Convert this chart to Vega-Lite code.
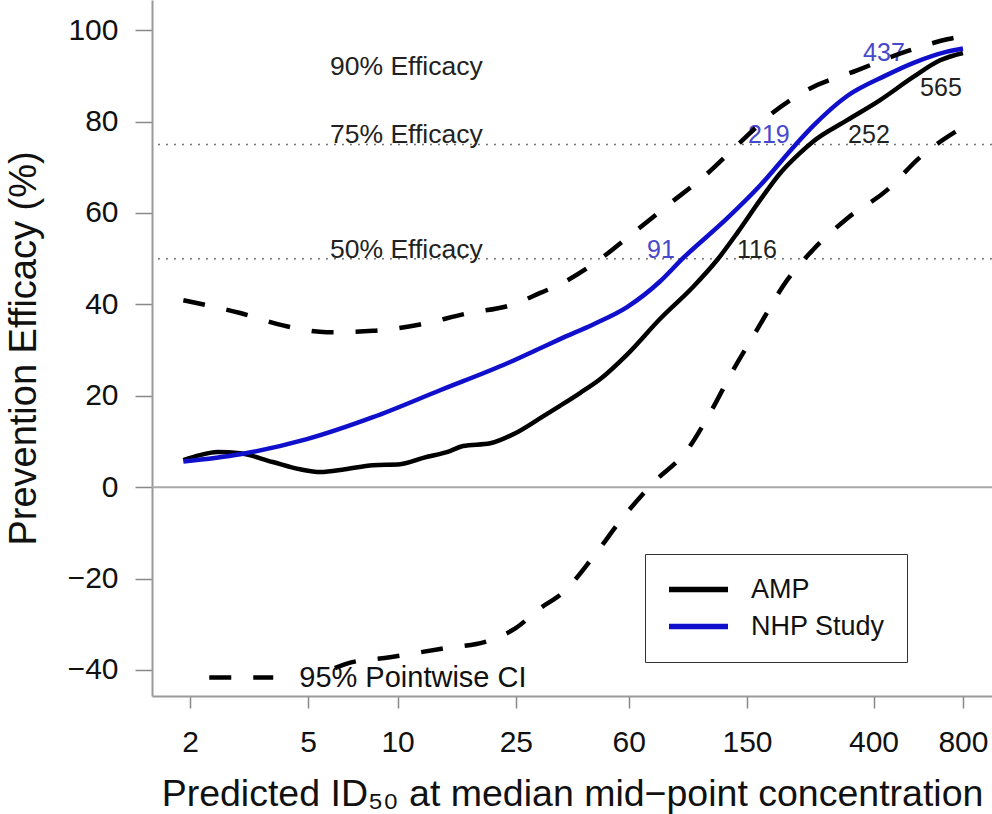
{
  "$schema": "https://vega.github.io/schema/vega-lite/v6.json",
  "width": 840,
  "height": 696,
  "autosize": {"type": "none"},
  "padding": {"left": 152, "top": 0, "right": 0, "bottom": 118},
  "background": "white",
  "config": {"view": {"stroke": null}, "font": "Liberation Sans"},
  "datasets": {
    "curves": [
      {"series": "AMP", "x": 1.9, "y": 5.9},
      {"series": "AMP", "x": 2.16, "y": 7.0},
      {"series": "AMP", "x": 2.47, "y": 7.7},
      {"series": "AMP", "x": 2.95, "y": 7.4},
      {"series": "AMP", "x": 3.8, "y": 5.5},
      {"series": "AMP", "x": 4.7, "y": 3.9},
      {"series": "AMP", "x": 5.5, "y": 3.3},
      {"series": "AMP", "x": 6.65, "y": 3.9},
      {"series": "AMP", "x": 8.26, "y": 4.8},
      {"series": "AMP", "x": 10.2, "y": 5.0},
      {"series": "AMP", "x": 12.2, "y": 6.4},
      {"series": "AMP", "x": 15.0, "y": 7.9},
      {"series": "AMP", "x": 16.6, "y": 9.0},
      {"series": "AMP", "x": 20.5, "y": 9.6},
      {"series": "AMP", "x": 24.9, "y": 11.8},
      {"series": "AMP", "x": 30.2, "y": 15.1},
      {"series": "AMP", "x": 35.2, "y": 17.8},
      {"series": "AMP", "x": 41.1, "y": 20.6},
      {"series": "AMP", "x": 48, "y": 23.6},
      {"series": "AMP", "x": 59.2, "y": 29.0},
      {"series": "AMP", "x": 76.4, "y": 36.8},
      {"series": "AMP", "x": 98.7, "y": 43.8},
      {"series": "AMP", "x": 119, "y": 49.7},
      {"series": "AMP", "x": 139, "y": 55.6},
      {"series": "AMP", "x": 166, "y": 62.8},
      {"series": "AMP", "x": 194, "y": 68.7},
      {"series": "AMP", "x": 226, "y": 73.1},
      {"series": "AMP", "x": 250, "y": 75.6},
      {"series": "AMP", "x": 326, "y": 80.3},
      {"series": "AMP", "x": 421, "y": 84.7},
      {"series": "AMP", "x": 543, "y": 89.7},
      {"series": "AMP", "x": 670, "y": 93.4},
      {"series": "AMP", "x": 800, "y": 95.0},
      {"series": "NHP Study", "x": 1.9, "y": 5.6},
      {"series": "NHP Study", "x": 2.95, "y": 7.2},
      {"series": "NHP Study", "x": 4.95, "y": 10.5},
      {"series": "NHP Study", "x": 8.26, "y": 15.3},
      {"series": "NHP Study", "x": 13.9, "y": 21.2},
      {"series": "NHP Study", "x": 23.4, "y": 27.1},
      {"series": "NHP Study", "x": 30.2, "y": 30.4},
      {"series": "NHP Study", "x": 35.2, "y": 32.4},
      {"series": "NHP Study", "x": 45.5, "y": 35.6},
      {"series": "NHP Study", "x": 59.2, "y": 39.4},
      {"series": "NHP Study", "x": 76.4, "y": 45.0},
      {"series": "NHP Study", "x": 91, "y": 50.0},
      {"series": "NHP Study", "x": 128.5, "y": 58.8},
      {"series": "NHP Study", "x": 166, "y": 66.0},
      {"series": "NHP Study", "x": 219, "y": 75.0},
      {"series": "NHP Study", "x": 250, "y": 79.0},
      {"series": "NHP Study", "x": 326, "y": 85.6},
      {"series": "NHP Study", "x": 437, "y": 90.0},
      {"series": "NHP Study", "x": 543, "y": 92.8},
      {"series": "NHP Study", "x": 708, "y": 95.3},
      {"series": "NHP Study", "x": 800, "y": 96.0}
    ],
    "ci": [
      {"band": "95% Pointwise CI", "bound": "upper", "x": 1.9, "y": 40.9},
      {"band": "95% Pointwise CI", "bound": "upper", "x": 2.95, "y": 38.1},
      {"band": "95% Pointwise CI", "bound": "upper", "x": 4.11, "y": 35.4},
      {"band": "95% Pointwise CI", "bound": "upper", "x": 5.78, "y": 33.9},
      {"band": "95% Pointwise CI", "bound": "upper", "x": 8.26, "y": 34.2},
      {"band": "95% Pointwise CI", "bound": "upper", "x": 11.9, "y": 35.6},
      {"band": "95% Pointwise CI", "bound": "upper", "x": 17.1, "y": 38.0},
      {"band": "95% Pointwise CI", "bound": "upper", "x": 24.5, "y": 40.0},
      {"band": "95% Pointwise CI", "bound": "upper", "x": 30.2, "y": 42.5},
      {"band": "95% Pointwise CI", "bound": "upper", "x": 35.2, "y": 44.4},
      {"band": "95% Pointwise CI", "bound": "upper", "x": 45.5, "y": 48.8},
      {"band": "95% Pointwise CI", "bound": "upper", "x": 62.0, "y": 55.6},
      {"band": "95% Pointwise CI", "bound": "upper", "x": 82.6, "y": 62.1},
      {"band": "95% Pointwise CI", "bound": "upper", "x": 106.7, "y": 67.8},
      {"band": "95% Pointwise CI", "bound": "upper", "x": 139, "y": 74.8},
      {"band": "95% Pointwise CI", "bound": "upper", "x": 183.6, "y": 82.0},
      {"band": "95% Pointwise CI", "bound": "upper", "x": 239, "y": 86.9},
      {"band": "95% Pointwise CI", "bound": "upper", "x": 352, "y": 91.2},
      {"band": "95% Pointwise CI", "bound": "upper", "x": 519, "y": 95.4},
      {"band": "95% Pointwise CI", "bound": "upper", "x": 708, "y": 98.0},
      {"band": "95% Pointwise CI", "bound": "upper", "x": 800, "y": 98.7},
      {"band": "95% Pointwise CI", "bound": "lower", "x": 6.15, "y": -39.6},
      {"band": "95% Pointwise CI", "bound": "lower", "x": 6.75, "y": -38.6},
      {"band": "95% Pointwise CI", "bound": "lower", "x": 9.43, "y": -37.2},
      {"band": "95% Pointwise CI", "bound": "lower", "x": 13.9, "y": -35.4},
      {"band": "95% Pointwise CI", "bound": "lower", "x": 20.5, "y": -33.5},
      {"band": "95% Pointwise CI", "bound": "lower", "x": 24.9, "y": -30.9},
      {"band": "95% Pointwise CI", "bound": "lower", "x": 30.2, "y": -26.5},
      {"band": "95% Pointwise CI", "bound": "lower", "x": 36.1, "y": -23.0},
      {"band": "95% Pointwise CI", "bound": "lower", "x": 45.5, "y": -15.3},
      {"band": "95% Pointwise CI", "bound": "lower", "x": 57.4, "y": -6.6},
      {"band": "95% Pointwise CI", "bound": "lower", "x": 72.4, "y": 0.9},
      {"band": "95% Pointwise CI", "bound": "lower", "x": 94.3, "y": 8.1},
      {"band": "95% Pointwise CI", "bound": "lower", "x": 112.6, "y": 16.2},
      {"band": "95% Pointwise CI", "bound": "lower", "x": 134.7, "y": 25.6},
      {"band": "95% Pointwise CI", "bound": "lower", "x": 162, "y": 34.4},
      {"band": "95% Pointwise CI", "bound": "lower", "x": 204.7, "y": 45.3},
      {"band": "95% Pointwise CI", "bound": "lower", "x": 250, "y": 51.9},
      {"band": "95% Pointwise CI", "bound": "lower", "x": 326, "y": 58.8},
      {"band": "95% Pointwise CI", "bound": "lower", "x": 444, "y": 65.0},
      {"band": "95% Pointwise CI", "bound": "lower", "x": 574, "y": 72.2},
      {"band": "95% Pointwise CI", "bound": "lower", "x": 800, "y": 78.8}
    ],
    "refs": [{"y": 50}, {"y": 75}],
    "zero": [{"y": 0}],
    "efficacy": [
      {"label": "90% Efficacy", "x": 5.92, "y": 90},
      {"label": "75% Efficacy", "x": 5.92, "y": 75},
      {"label": "50% Efficacy", "x": 5.92, "y": 50}
    ],
    "numbers": [
      {"series": "NHP Study", "label": "91", "x": 69.1, "y": 50},
      {"series": "AMP", "label": "116", "x": 138.9, "y": 50},
      {"series": "NHP Study", "label": "219", "x": 151.2, "y": 75},
      {"series": "AMP", "label": "252", "x": 328.5, "y": 75},
      {"series": "NHP Study", "label": "437", "x": 369, "y": 93},
      {"series": "AMP", "label": "565", "x": 574, "y": 85.3}
    ]
  },
  "layer": [
    {
      "data": {"name": "zero"},
      "mark": {"type": "rule", "color": "#a8a8a8", "strokeWidth": 2},
      "encoding": {
        "y": {"field": "y", "type": "quantitative",
              "scale": {"domain": [-45.7, 106.6], "nice": false, "zero": false},
              "axis": {
                "values": [-40, -20, 0, 20, 40, 60, 80, 100],
                "labelFontSize": 30, "labelColor": "#111",
                "tickSize": 17, "tickColor": "#888", "tickWidth": 1.5,
                "domainColor": "#999", "domainWidth": 2, "grid": false,
                "labelPadding": 17,
                "title": "Prevention Efficacy (%)", "titleFontSize": 38,
                "titleFontWeight": "normal", "titleColor": "#111",
                "titleX": -117, "titleBaseline": "alphabetic"
              }}
      }
    },
    {
      "data": {"name": "refs"},
      "mark": {"type": "rule", "color": "#777", "strokeWidth": 1.5, "strokeDash": [2, 6]},
      "encoding": {
        "y": {"field": "y", "type": "quantitative", "scale": {"domain": [-45.7, 106.6], "nice": false, "zero": false}}
      }
    },
    {
      "data": {"name": "efficacy"},
      "mark": {"type": "text", "align": "left", "baseline": "alphabetic", "fontSize": 26.5, "color": "#222", "dy": -1},
      "encoding": {
        "x": {"field": "x", "type": "quantitative", "scale": {"type": "log", "domain": [1.49, 1002], "nice": false},
              "axis": {
                "values": [2, 5, 10, 25, 60, 150, 400, 800], "format": "d",
                "labelFontSize": 30, "labelColor": "#111",
                "tickSize": 12, "tickColor": "#888", "tickWidth": 1.5,
                "domainColor": "#999", "domainWidth": 2, "grid": false,
                "labelPadding": 19, "labelFlush": false, "labelOverlap": false,
                "title": "Predicted ID₅₀ at median mid−point concentration",
                "titleFontSize": 37.5, "titleFontWeight": "normal", "titleColor": "#111",
                "titleY": 109, "titleBaseline": "alphabetic"
              }},
        "y": {"field": "y", "type": "quantitative", "scale": {"domain": [-45.7, 106.6], "nice": false, "zero": false}},
        "text": {"field": "label"}
      }
    },
    {
      "data": {"name": "numbers"},
      "transform": [{"filter": "datum.series === 'NHP Study'"}],
      "mark": {"type": "text", "align": "left", "baseline": "alphabetic", "fontSize": 25, "color": "#4848cc", "dy": -1},
      "encoding": {
        "x": {"field": "x", "type": "quantitative", "scale": {"type": "log", "domain": [1.49, 1002], "nice": false}},
        "y": {"field": "y", "type": "quantitative", "scale": {"domain": [-45.7, 106.6], "nice": false, "zero": false}},
        "text": {"field": "label"}
      }
    },
    {
      "data": {"name": "numbers"},
      "transform": [{"filter": "datum.series === 'AMP'"}],
      "mark": {"type": "text", "align": "left", "baseline": "alphabetic", "fontSize": 25, "color": "#222", "dy": -1},
      "encoding": {
        "x": {"field": "x", "type": "quantitative", "scale": {"type": "log", "domain": [1.49, 1002], "nice": false}},
        "y": {"field": "y", "type": "quantitative", "scale": {"domain": [-45.7, 106.6], "nice": false, "zero": false}},
        "text": {"field": "label"}
      }
    },
    {
      "data": {"name": "ci"},
      "mark": {"type": "line", "interpolate": "monotone", "strokeWidth": 4.5, "color": "#000"},
      "encoding": {
        "x": {"field": "x", "type": "quantitative", "scale": {"type": "log", "domain": [1.49, 1002], "nice": false}},
        "y": {"field": "y", "type": "quantitative", "scale": {"domain": [-45.7, 106.6], "nice": false, "zero": false}},
        "detail": {"field": "bound"},
        "strokeDash": {"field": "band", "type": "nominal",
          "scale": {"domain": ["95% Pointwise CI"], "range": [[22, 22]]},
          "legend": {
            "orient": "none", "legendX": 56, "legendY": 663, "title": null,
            "padding": 0, "symbolType": "M-3,0H3", "symbolSize": 455,
            "symbolStrokeWidth": 4.5, "symbolStrokeColor": "#000",
            "symbolOffset": 18.75, "labelOffset": 43.5, "labelLimit": 0,
            "labelFontSize": 29, "labelColor": "#111"
          }}
      }
    },
    {
      "data": {"name": "curves"},
      "mark": {"type": "line", "interpolate": "monotone", "strokeWidth": 4.5},
      "encoding": {
        "x": {"field": "x", "type": "quantitative", "scale": {"type": "log", "domain": [1.49, 1002], "nice": false}},
        "y": {"field": "y", "type": "quantitative", "scale": {"domain": [-45.7, 106.6], "nice": false, "zero": false}},
        "color": {"field": "series", "type": "nominal",
          "scale": {"domain": ["AMP", "NHP Study"], "range": ["#000000", "#1010cc"]},
          "legend": {
            "orient": "none", "legendX": 493, "legendY": 554, "title": null,
            "direction": "vertical", "padding": 22,
            "strokeColor": "#333", "fillColor": "white",
            "symbolType": "M-3,0H3", "symbolSize": 387, "symbolStrokeWidth": 5.5,
            "symbolOffset": 18, "labelOffset": 39, "rowPadding": 9, "labelLimit": 0,
            "labelFontSize": 27, "labelColor": "#111"
          }}
      }
    }
  ]
}
